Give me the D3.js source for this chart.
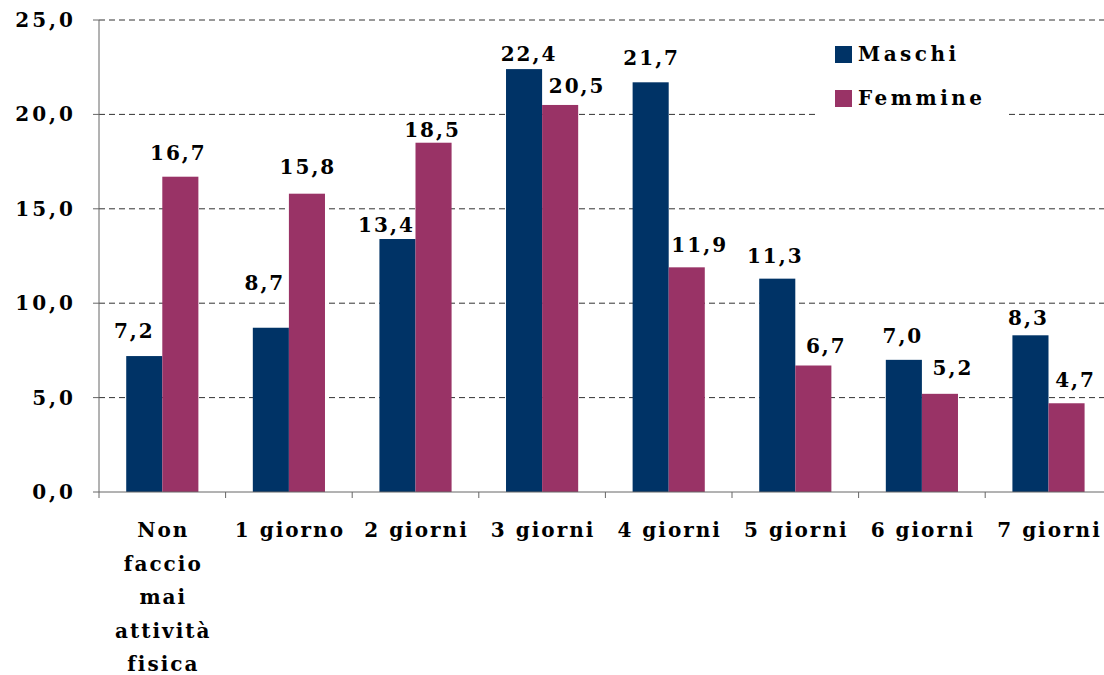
<!DOCTYPE html>
<html>
<head>
<meta charset="utf-8">
<script src="https://cdn.jsdelivr.net/npm/d3@7"></script>
<style>
  body { margin: 0; background: #fff; }
  text { font-family: "DejaVu Serif", Georgia, serif; font-weight: bold; fill: #000; }
</style>
</head>
<body>
<svg id="chart" width="1104" height="675"></svg>
<script>
// dati
var categories = ["Non faccio mai attività fisica", "1 giorno", "2 giorni", "3 giorni", "4 giorni", "5 giorni", "6 giorni", "7 giorni"];
var seriesNames = ["Maschi", "Femmine"];
var maschi = [7.2, 8.7, 13.4, 22.4, 21.7, 11.3, 7.0, 8.3];
var femmine = [16.7, 15.8, 18.5, 20.5, 11.9, 6.7, 5.2, 4.7];
var yTicks = [0, 5, 10, 15, 20, 25];
var colors = ["#003366", "#993366"];

// spostamenti manuali delle etichette (come nel grafico originale)
var nudgeX = [[-11, -7, -12, 4, 0, -3, -2, -3], [-3, 0, -2, 16, 12, 12, 12, 8]];
var nudgeY = [[-18, -38, -7, -8, -17, -16, -17, -10], [-17, -20, -6, -12, -15, -13, -19, -16]];

var svg = d3.select("#chart");
var plotLeft = 99, plotTop = 20, plotBottom = 492;
var step = 126.6;

var x0 = d3.scaleBand()
  .domain(categories)
  .range([plotLeft, plotLeft + step * categories.length])
  .paddingInner(0.43)
  .paddingOuter(0.215);

var x1 = d3.scaleBand()
  .domain(seriesNames)
  .range([0, x0.bandwidth()]);

var y = d3.scaleLinear().domain([0, 25]).range([plotBottom, plotTop]);

var fmt = function (v) { return d3.format(".1f")(v).replace(".", ","); };

// griglia tratteggiata
svg.append("g")
  .selectAll("line")
  .data(yTicks.filter(function (d) { return d > 0; }))
  .enter()
  .append("line")
  .attr("x1", plotLeft).attr("x2", 1104)
  .attr("y1", function (d) { return y(d); })
  .attr("y2", function (d) { return y(d); })
  .attr("stroke", "#333")
  .attr("stroke-width", 1)
  .attr("stroke-dasharray", "6,4");

// barre
var data = categories.map(function (c, i) {
  return { cat: c, i: i, values: [maschi[i], femmine[i]] };
});

var groups = svg.append("g")
  .selectAll("g")
  .data(data)
  .enter()
  .append("g")
  .attr("transform", function (d) { return "translate(" + x0(d.cat) + ",0)"; });

var items = function (d) {
  return d.values.map(function (v, k) { return { s: seriesNames[k], v: v, k: k, i: d.i }; });
};

groups.selectAll("rect")
  .data(items)
  .enter()
  .append("rect")
  .attr("x", function (d) { return x1(d.s); })
  .attr("width", x1.bandwidth())
  .attr("y", function (d) { return y(d.v); })
  .attr("height", function (d) { return plotBottom - y(d.v); })
  .attr("fill", function (d) { return colors[d.k]; });

groups.selectAll("text.val")
  .data(items)
  .enter()
  .append("text")
  .attr("class", "val")
  .attr("x", function (d) { return x1(d.s) + x1.bandwidth() / 2 + nudgeX[d.k][d.i] + 1; })
  .attr("y", function (d) { return y(d.v) + nudgeY[d.k][d.i]; })
  .attr("text-anchor", "middle")
  .style("font-size", "20px")
  .style("letter-spacing", "2px")
  .text(function (d) { return fmt(d.v); });

// asse y
var yAxis = svg.append("g");
yAxis.append("line")
  .attr("x1", plotLeft).attr("x2", plotLeft)
  .attr("y1", plotTop).attr("y2", plotBottom)
  .attr("stroke", "#666");
yAxis.selectAll("line.tick")
  .data(yTicks)
  .enter()
  .append("line")
  .attr("class", "tick")
  .attr("x1", plotLeft - 6).attr("x2", plotLeft)
  .attr("y1", function (d) { return y(d); })
  .attr("y2", function (d) { return y(d); })
  .attr("stroke", "#666");
yAxis.selectAll("text")
  .data(yTicks)
  .enter()
  .append("text")
  .attr("x", 76)
  .attr("y", function (d) { return y(d) + 7; })
  .attr("text-anchor", "end")
  .style("font-size", "20px")
  .style("letter-spacing", "3px")
  .text(function (d) { return fmt(d); });

// asse x
var xAxis = svg.append("g");
xAxis.append("line")
  .attr("x1", plotLeft).attr("x2", 1104)
  .attr("y1", plotBottom).attr("y2", plotBottom)
  .attr("stroke", "#666");
xAxis.selectAll("line.tick")
  .data(d3.range(categories.length + 1))
  .enter()
  .append("line")
  .attr("class", "tick")
  .attr("x1", function (i) { return plotLeft + i * x0.step(); })
  .attr("x2", function (i) { return plotLeft + i * x0.step(); })
  .attr("y1", plotBottom).attr("y2", plotBottom + 6)
  .attr("stroke", "#666");

var wrapLines = { "Non faccio mai attività fisica": ["Non", "faccio", "mai", "attività", "fisica"] };
xAxis.selectAll("text")
  .data(categories)
  .enter()
  .append("text")
  .attr("text-anchor", "middle")
  .style("font-size", "20px")
  .style("letter-spacing", "2px")
  .each(function (c) {
    var lines = wrapLines[c] || [c];
    var t = d3.select(this);
    lines.forEach(function (l, i) {
      t.append("tspan")
        .attr("x", x0(c) + x0.bandwidth() / 2 + 1)
        .attr("y", 537 + i * 33.5)
        .text(l);
    });
  });

// legenda
var legend = svg.append("g");
legend.append("rect")
  .attr("x", 818).attr("y", 30)
  .attr("width", 187).attr("height", 87)
  .attr("fill", "#fff");
seriesNames.forEach(function (s, i) {
  legend.append("rect")
    .attr("x", 835).attr("y", 46 + i * 44)
    .attr("width", 17).attr("height", 17)
    .attr("fill", colors[i]);
  legend.append("text")
    .attr("x", 858).attr("y", 61 + i * 44)
    .style("font-size", "20px")
    .style("letter-spacing", "3.5px")
    .text(s);
});
</script>
</body>
</html>
